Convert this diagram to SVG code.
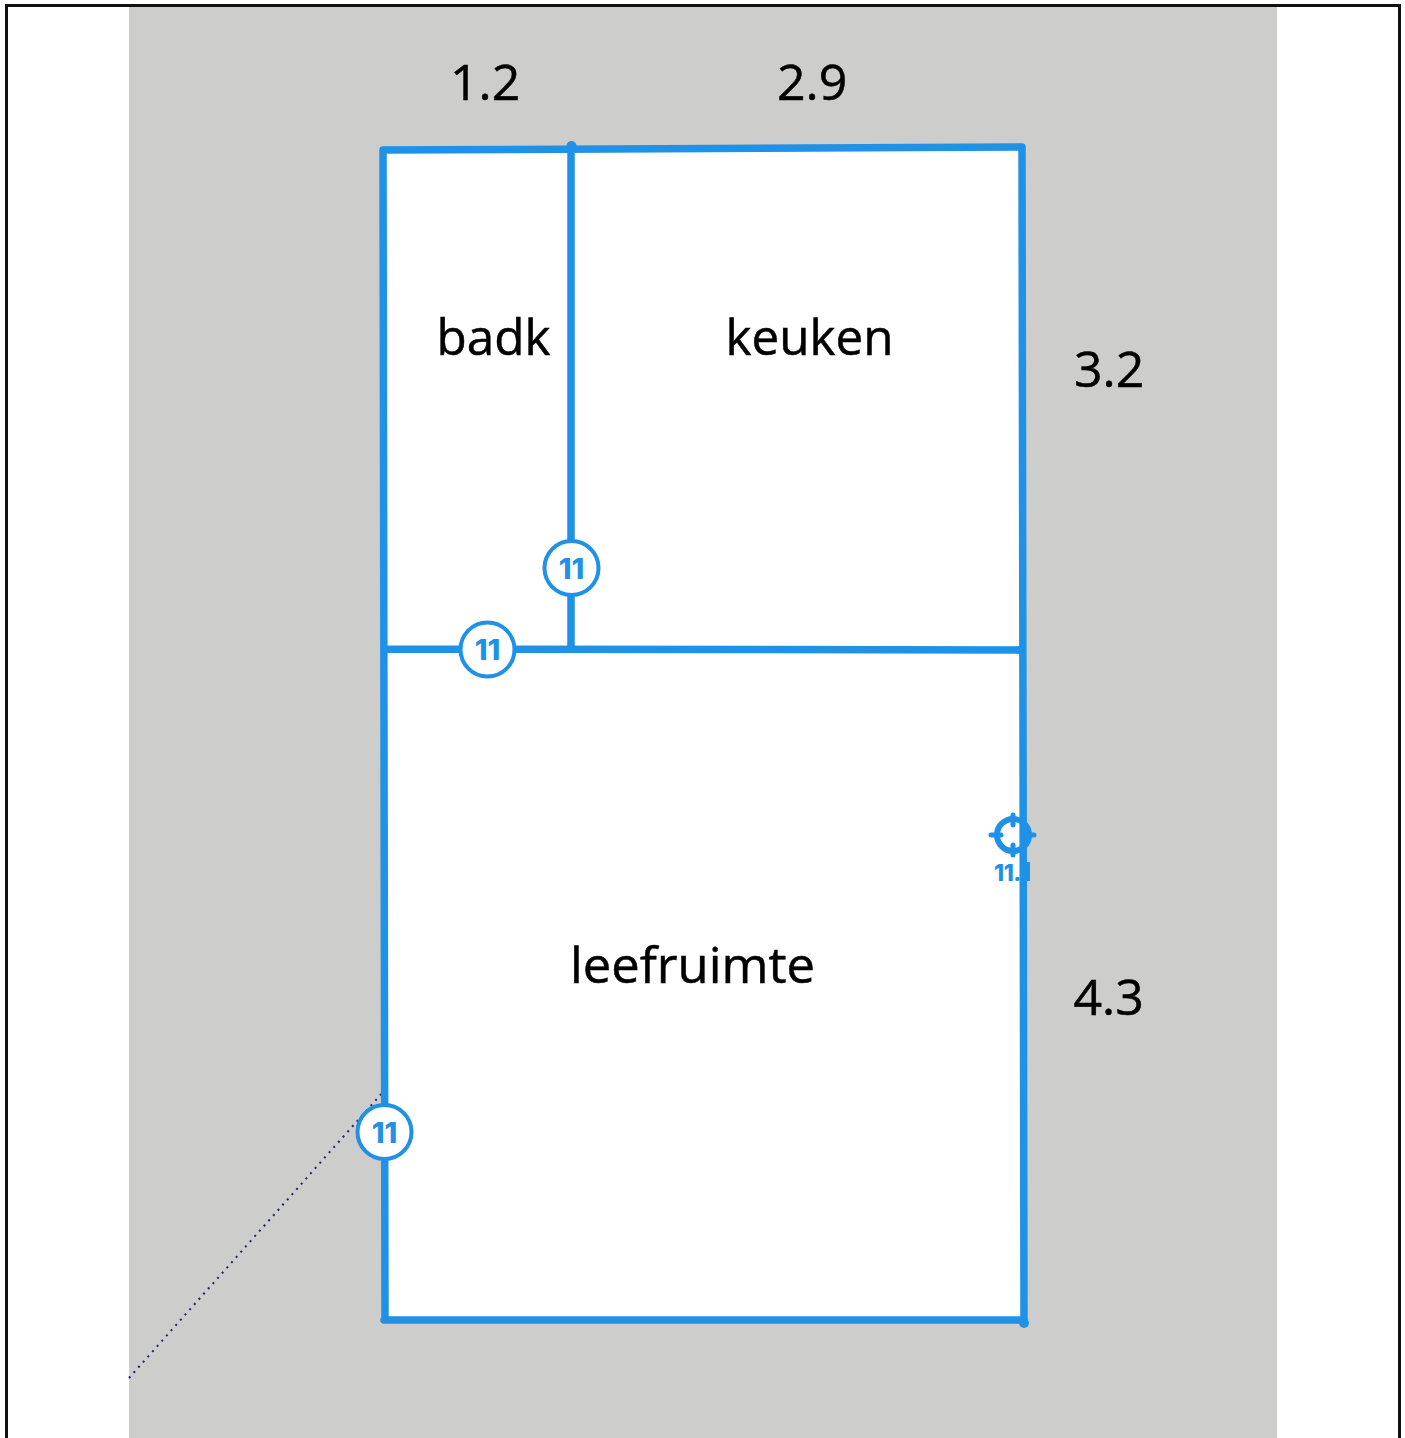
<svg xmlns="http://www.w3.org/2000/svg" width="1405" height="1438" viewBox="0 0 1405 1438">
<style>
.lbl{font-family:"Open Sans","Noto Sans",sans-serif;font-size:50px;fill:#000;stroke:#000;stroke-width:.5px}
.wall{stroke:#1f91e6;stroke-width:7.500;fill:none;stroke-linecap:round}
.badge circle{fill:#fff;stroke:#1f91e6;stroke-width:4}
.badge text{font-family:Inter,Roboto,sans-serif;font-weight:800;font-size:29px;fill:#1f91e6;text-anchor:middle;letter-spacing:0}
</style>
<rect width="1405" height="1438" fill="#fff"/>
<g id="background">
<rect x="129" y="7" width="1148" height="1431" fill="#cdcdcb"/>
<polygon points="383,150 1023,147 1024,1321 384,1321" fill="#fff"/>
<path d="M6.500 1438V5.500H1399.500V1438" fill="none" stroke="#111" stroke-width="3"/>
</g>
<g id="connectors">
<path d="M129 1378L383 1092" fill="none" stroke="#22226a" stroke-width="2" stroke-dasharray="2 5"/>
<path class="wall" d="M383 150L1022 147M383 150L385 1320M571 146V649M386 649L1021 650M1022 147L1024 1323M384 1320H1024"/>
<circle cx="571.500" cy="146" r="5" fill="#1f91e6"/>
<circle cx="1024" cy="1323" r="5" fill="#1f91e6"/>
<circle cx="1019" cy="650" r="4" fill="#1f91e6"/>
</g>
<g id="node-dim-1-2"><text class="lbl" x="450" y="100">1.2</text></g>
<g id="node-dim-2-9"><text class="lbl" x="777" y="100">2.9</text></g>
<g id="node-dim-3-2"><text class="lbl" x="1074" y="387">3.2</text></g>
<g id="node-dim-4-3"><text class="lbl" x="1073.500" y="1015">4.3</text></g>
<g id="node-badk"><text class="lbl" x="436.500" y="355" textLength="114" lengthAdjust="spacingAndGlyphs">badk</text></g>
<g id="node-keuken"><text class="lbl" x="725.500" y="355" textLength="168" lengthAdjust="spacingAndGlyphs">keuken</text></g>
<g id="node-leefruimte"><text class="lbl" x="570" y="983" textLength="245" lengthAdjust="spacingAndGlyphs">leefruimte</text></g>
<g id="node-badge-1" class="badge"><circle cx="571.500" cy="568" r="27"/><text x="571.500" y="578.500">11</text></g>
<g id="node-badge-2" class="badge"><circle cx="487.500" cy="649.500" r="27"/><text x="487.500" y="660">11</text></g>
<g id="node-badge-3" class="badge"><circle cx="384.500" cy="1132" r="27"/><text x="384.500" y="1143">11</text></g>
<g id="node-target">
<circle cx="1013" cy="835" r="16" fill="none" stroke="#1f91e6" stroke-width="6"/>
<path d="M1013 815V825M1013 845V855M991 835H1001M1025 835H1034" stroke="#1f91e6" stroke-width="5" stroke-linecap="round"/>
<text x="994" y="881" font-family="Inter,Roboto,sans-serif" font-weight="800" font-size="23" fill="#1f91e6" letter-spacing="-.5">11.</text>
<rect x="1024" y="862" width="6" height="19" fill="#1f91e6"/>
</g>
</svg>
